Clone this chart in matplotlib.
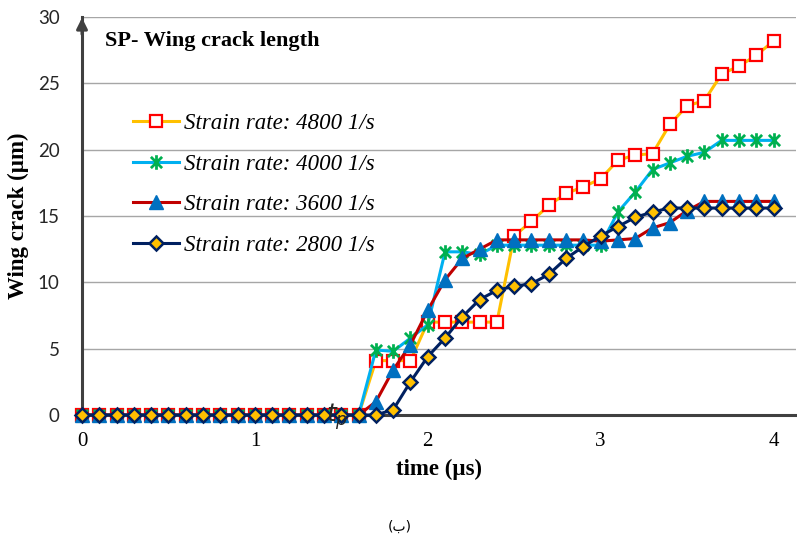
import matplotlib
matplotlib.use("Agg")
import matplotlib.pyplot as plt
from matplotlib.path import Path

# time axis (µs), one point every 0.1
time_us = [round(i * 0.1, 1) for i in range(41)]

zeros_to_16 = [0.0] * 17  # 0.0 .. 1.6

crack_4800 = zeros_to_16 + [4.1, 4.1, 4.1, 7.0, 7.0, 7.0, 7.0, 7.0, 13.5, 14.6,
                            15.8, 16.7, 17.2, 17.8, 19.2, 19.6, 19.7, 21.9, 23.3, 23.7,
                            25.7, 26.3, 27.1, 28.2]
crack_4000 = zeros_to_16 + [4.9, 4.8, 5.8, 6.8, 12.3, 12.3, 12.1, 12.8, 12.8, 12.8,
                            12.8, 12.8, 12.8, 12.8, 15.3, 16.8, 18.5, 19.0, 19.5, 19.8,
                            20.7, 20.7, 20.7, 20.7]
crack_3600 = zeros_to_16 + [1.0, 3.4, 5.3, 7.9, 10.2, 11.8, 12.5, 13.2, 13.2, 13.2,
                            13.2, 13.2, 13.2, 13.1, 13.2, 13.3, 14.1, 14.5, 15.4, 16.1,
                            16.1, 16.1, 16.1, 16.1]
crack_2800 = zeros_to_16 + [0.0, 0.4, 2.5, 4.4, 5.8, 7.4, 8.7, 9.4, 9.7, 9.9,
                            10.6, 11.8, 12.7, 13.5, 14.2, 14.9, 15.3, 15.6, 15.6, 15.6,
                            15.6, 15.6, 15.6, 15.6]

labels = ["Strain rate: 4800 1/s", "Strain rate: 4000 1/s",
          "Strain rate: 3600 1/s", "Strain rate: 2800 1/s"]

serif = "Liberation Serif"

# excel style star: an X with a vertical bar
star = Path([(-1, -1), (1, 1), (-1, 1), (1, -1), (0, -1.3), (0, 1.3)],
            [Path.MOVETO, Path.LINETO] * 3)

fig = plt.figure(figsize=(7.97, 5.40), dpi=100)
ax = fig.add_axes([82 / 797, 125 / 540, 714 / 797, 398 / 540])

ax.plot(time_us, crack_4800, color="#FFC000", lw=2.2, marker="s", ms=9,
        mfc="white", mec="#FF0000", mew=1.6, label=labels[0], clip_on=False, zorder=3)
ax.plot(time_us, crack_4000, color="#00B0F0", lw=2.2, marker=star, ms=10.5,
        mec="#00B050", mew=2.0, label=labels[1], clip_on=False, zorder=4)
ax.plot(time_us, crack_3600, color="#C00000", lw=2.2, marker="^", ms=10,
        mfc="#0070C0", mec="#0070C0", label=labels[2], clip_on=False, zorder=5)
ax.plot(time_us, crack_2800, color="#002060", lw=2.2, marker="D", ms=7,
        mfc="#FFC000", mec="#002060", mew=1.8, label=labels[3], clip_on=False, zorder=6)

ax.set_xlim(0, 4.13)
ax.set_ylim(0, 30)
ax.set_xticks([0, 1, 2, 3, 4])
ax.set_yticks(range(0, 31, 5))
ax.grid(axis="y", color="#A6A6A6", lw=1)
ax.set_axisbelow(True)

for s in ["top", "right"]:
    ax.spines[s].set_visible(False)
ax.spines["left"].set_color("#404040")
ax.spines["left"].set_linewidth(2.2)
ax.spines["bottom"].set_color("#404040")
ax.spines["bottom"].set_linewidth(2.2)
ax.spines["bottom"].set_zorder(2)

ax.tick_params(axis="y", direction="in", length=5, color="#A6A6A6", pad=16)
ax.tick_params(axis="x", length=0, pad=12)
for t in ax.get_yticklabels():
    t.set_fontfamily("Lato")
    t.set_fontsize(13.5)
    t.set_color("#262626")
for t in ax.get_xticklabels():
    t.set_fontfamily(serif)
    t.set_fontsize(15)

# arrow on top of y axis
ax.annotate("", xy=(0, 1.005), xytext=(0, 0.95), xycoords="axes fraction",
            arrowprops=dict(arrowstyle="-|>", color="#404040", lw=2.2,
                            mutation_scale=16), annotation_clip=False)

ax.set_xlabel("time (µs)", fontfamily=serif, fontweight="bold", fontsize=16.5, labelpad=6)
ax.set_ylabel("Wing crack (µm)", fontfamily=serif, fontweight="bold", fontsize=16.5, labelpad=6)

ax.text(0.032, 0.94, "SP- Wing crack length", transform=ax.transAxes,
        fontfamily=serif, fontweight="bold", fontsize=16, va="center")

ax.text(1.41, -0.15, r"$t_p$", fontsize=18, color="#262626", ha="left", va="center",
        zorder=7)

leg = ax.legend(loc="upper left", bbox_to_anchor=(0.043, 0.81), frameon=False,
                prop={"family": serif, "style": "italic", "size": 16.5},
                handlelength=2.0, handletextpad=0.2, labelspacing=0.85)

fig.text(400 / 797, 1 - 527 / 540, "(ب)", fontfamily="DejaVu Sans", fontsize=10,
         ha="center", va="center")

fig.savefig("out.png", dpi=100)
